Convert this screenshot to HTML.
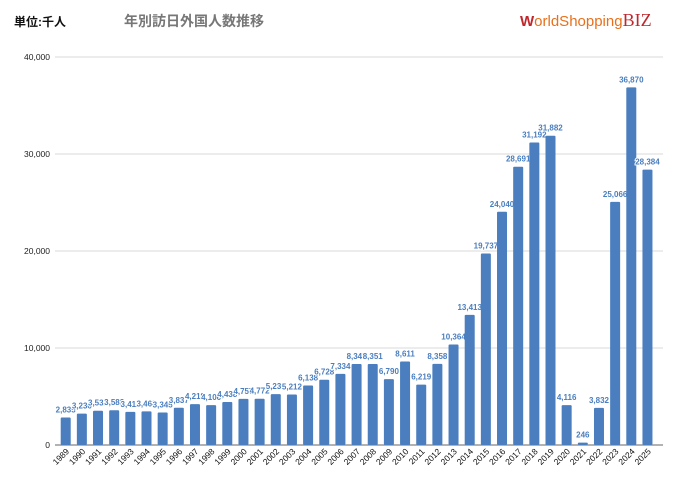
<!DOCTYPE html>
<html><head><meta charset="utf-8"><style>
body{margin:0;background:#fff;width:680px;height:489px;overflow:hidden;font-family:"Liberation Sans","Noto Sans CJK JP",sans-serif}
</style></head><body>
<svg id="c" width="680" height="489">
<text x="14" y="26" font-size="12" font-weight="bold" fill="#111" font-family="Liberation Sans,Noto Sans CJK JP,sans-serif">単位:千人</text>
<text x="124" y="26" font-size="14" font-weight="bold" fill="#777" font-family="Liberation Sans,Noto Sans CJK JP,sans-serif">年別訪日外国人数推移</text>
<g>
<text x="520" y="26" font-size="15" fill="#e8701a" font-family="Liberation Sans,sans-serif"><tspan fill="#c0272d" font-weight="bold">W</tspan>orldShopping<tspan fill="#c0272d" font-family="Liberation Serif,serif" font-size="18">BIZ</tspan></text>
</g>
<g id="grid"></g><g id="bars"></g>
</svg>
<script>
const years=[1989,1990,1991,1992,1993,1994,1995,1996,1997,1998,1999,2000,2001,2002,2003,2004,2005,2006,2007,2008,2009,2010,2011,2012,2013,2014,2015,2016,2017,2018,2019,2020,2021,2022,2023,2024,2025];
const visitors=[2835,3236,3532,3583,3411,3468,3345,3837,4218,4106,4438,4757,4772,5239,5212,6138,6728,7334,8347,8351,6790,8611,6219,8358,10364,13413,19737,24040,28691,31192,31882,4116,246,3832,25066,36870,28384];
const yTicks=[0,10000,20000,30000,40000];
const NS="http://www.w3.org/2000/svg";
const y0=445,y1=57,yMax=40000;
function ys(v){return y0-(v/yMax)*(y0-y1);}
function xs(i){return 65.7+i*16.16;}
const grid=document.getElementById('grid'),bars=document.getElementById('bars');
function mk(tag,attrs,parent){const e=document.createElementNS(NS,tag);for(const k in attrs)e.setAttribute(k,attrs[k]);parent.appendChild(e);return e;}
yTicks.forEach(t=>{
 const l=mk('line',{x1:55,x2:663,y1:ys(t),y2:ys(t),stroke:t===0?'#999':'#d8d8d8','stroke-width':t===0?1.5:1},grid);
 
 
 const tx=mk('text',{x:50,y:ys(t)+3,'text-anchor':'end','font-size':8.5,fill:'#222'},grid);
 tx.textContent=t.toLocaleString('en-US');
 
 
});
visitors.forEach((v,i)=>{
 const x=xs(i);
 const r=mk('rect',{x:x-5,y:ys(v),width:10,height:y0-ys(v),fill:'#4a7ebf',rx:1},bars);
 
 
 const t=mk('text',{x:x,y:ys(v)-5,'text-anchor':'middle','font-size':8,'font-weight':'bold',fill:'#4a7ebf',stroke:'#fff','stroke-width':2,'paint-order':'stroke'},bars);
 t.textContent=v.toLocaleString('en-US');
 
 
 const xl=mk('text',{x:x+4,y:452,'text-anchor':'end','font-size':8.5,fill:'#111',transform:`rotate(-45 ${x+4} 452)`},bars);
 xl.textContent=years[i];
 
 
});
</script>
</body></html>
